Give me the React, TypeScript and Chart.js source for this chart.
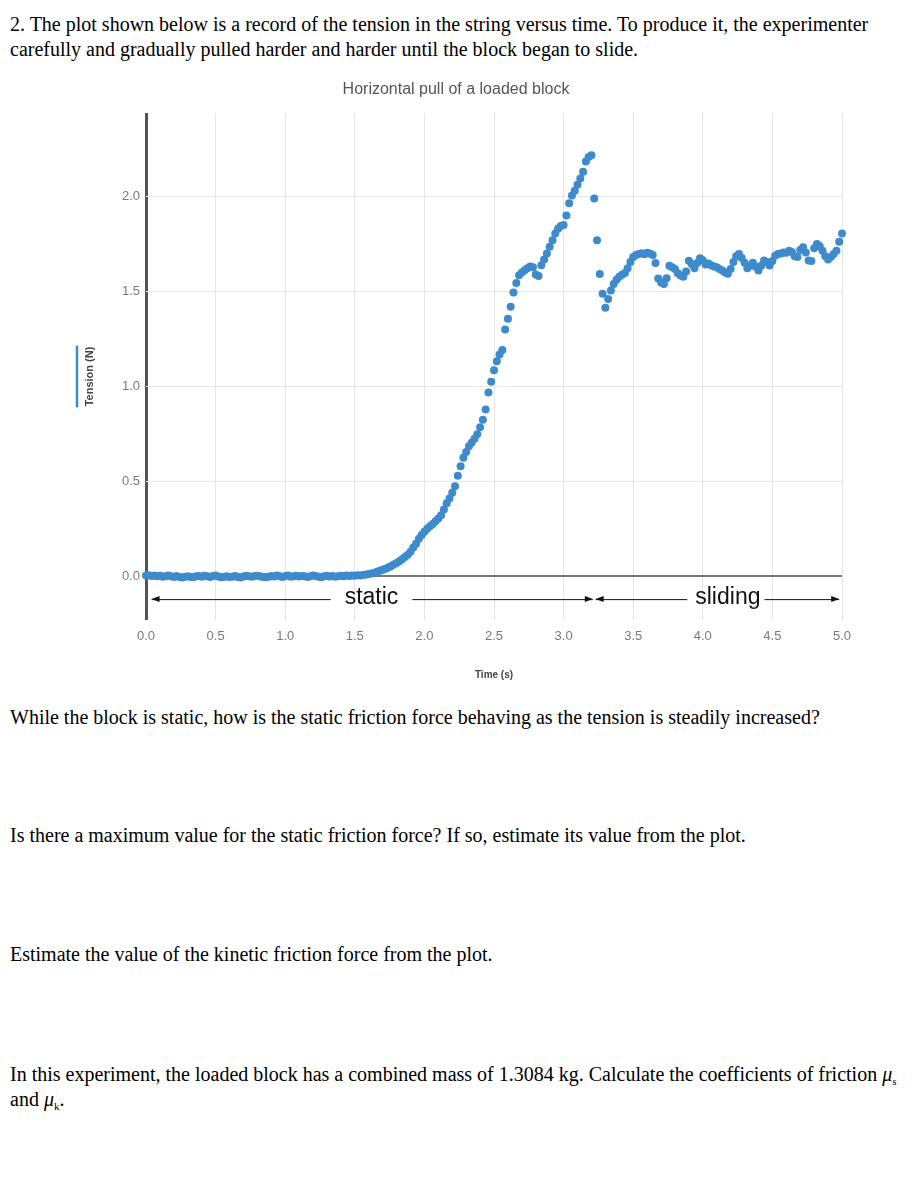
import React, { useEffect, useRef } from 'react';
import { Chart, registerables } from 'chart.js';

Chart.register(...registerables);

// ---- Data ----
const chartTitle = 'Horizontal pull of a loaded block';
const xAxisTitle = 'Time (s)';
const yAxisTitle = 'Tension (N)';

const time: number[] = [
  0.00, 0.02, 0.04, 0.06, 0.08, 0.10, 0.12, 0.14, 0.16, 0.18,
  0.20, 0.22, 0.24, 0.26, 0.28, 0.30, 0.32, 0.34, 0.36, 0.38,
  0.40, 0.42, 0.44, 0.46, 0.48, 0.50, 0.52, 0.54, 0.56, 0.58,
  0.60, 0.62, 0.64, 0.66, 0.68, 0.70, 0.72, 0.74, 0.76, 0.78,
  0.80, 0.82, 0.84, 0.86, 0.88, 0.90, 0.92, 0.94, 0.96, 0.98,
  1.00, 1.02, 1.04, 1.06, 1.08, 1.10, 1.12, 1.14, 1.16, 1.18,
  1.20, 1.22, 1.24, 1.26, 1.28, 1.30, 1.32, 1.34, 1.36, 1.38,
  1.40, 1.42, 1.44, 1.46, 1.48, 1.50, 1.52, 1.54, 1.56, 1.58,
  1.60, 1.62, 1.64, 1.66, 1.68, 1.70, 1.72, 1.74, 1.76, 1.78,
  1.80, 1.82, 1.84, 1.86, 1.88, 1.90, 1.92, 1.94, 1.96, 1.98,
  2.00, 2.02, 2.04, 2.06, 2.08, 2.10, 2.12, 2.14, 2.16, 2.18,
  2.20, 2.22, 2.24, 2.26, 2.28, 2.30, 2.32, 2.34, 2.36, 2.38,
  2.40, 2.42, 2.44, 2.46, 2.48, 2.50, 2.52, 2.54, 2.56, 2.58,
  2.60, 2.62, 2.64, 2.66, 2.68, 2.70, 2.72, 2.74, 2.76, 2.78,
  2.80, 2.82, 2.84, 2.86, 2.88, 2.90, 2.92, 2.94, 2.96, 2.98,
  3.00, 3.02, 3.04, 3.06, 3.08, 3.10, 3.12, 3.14, 3.16, 3.18,
  3.20, 3.22, 3.24, 3.26, 3.28, 3.30, 3.32, 3.34, 3.36, 3.38,
  3.40, 3.42, 3.44, 3.46, 3.48, 3.50, 3.52, 3.54, 3.56, 3.58,
  3.60, 3.62, 3.64, 3.66, 3.68, 3.70, 3.72, 3.74, 3.76, 3.78,
  3.80, 3.82, 3.84, 3.86, 3.88, 3.90, 3.92, 3.94, 3.96, 3.98,
  4.00, 4.02, 4.04, 4.06, 4.08, 4.10, 4.12, 4.14, 4.16, 4.18,
  4.20, 4.22, 4.24, 4.26, 4.28, 4.30, 4.32, 4.34, 4.36, 4.38,
  4.40, 4.42, 4.44, 4.46, 4.48, 4.50, 4.52, 4.54, 4.56, 4.58,
  4.60, 4.62, 4.64, 4.66, 4.68, 4.70, 4.72, 4.74, 4.76, 4.78,
  4.80, 4.82, 4.84, 4.86, 4.88, 4.90, 4.92, 4.94, 4.96, 4.98,
  5.00,
];

const tension: number[] = [
  0.004, 0.006, 0.002, 0.005, 0.001, 0.003, -0.002, 0.001, 0.004, 0.000,
  -0.003, 0.002, -0.004, -0.006, -0.002, 0.001, -0.003, -0.005, 0.000, 0.002,
  -0.002, 0.003, 0.001, -0.004, 0.002, 0.004, -0.001, -0.005, -0.003, 0.001,
  -0.004, -0.002, 0.002, -0.003, -0.006, -0.001, 0.003, 0.001, -0.002, 0.002,
  0.003, 0.000, -0.003, -0.005, -0.002, 0.002, -0.001, 0.004, 0.001, -0.003,
  0.002, 0.004, -0.002, 0.001, 0.003, -0.001, 0.002, 0.000, -0.003, 0.001,
  0.004, 0.002, -0.002, -0.005, 0.001, 0.003, -0.001, 0.002, -0.002, 0.000,
  0.003, 0.001, 0.004, 0.002, 0.005, 0.003, 0.006, 0.004, 0.007, 0.009,
  0.012, 0.015, 0.018, 0.024, 0.030, 0.035, 0.040, 0.047, 0.053, 0.062,
  0.070, 0.080, 0.090, 0.102, 0.113, 0.130, 0.152, 0.172, 0.198, 0.218,
  0.235, 0.250, 0.264, 0.276, 0.290, 0.305, 0.322, 0.352, 0.385, 0.410,
  0.440, 0.475, 0.530, 0.580, 0.625, 0.655, 0.685, 0.705, 0.725, 0.748,
  0.785, 0.825, 0.878, 0.968, 1.025, 1.085, 1.132, 1.168, 1.192, 1.300,
  1.356, 1.420, 1.495, 1.545, 1.585, 1.600, 1.612, 1.622, 1.632, 1.628,
  1.590, 1.582, 1.638, 1.668, 1.700, 1.735, 1.770, 1.805, 1.830, 1.845,
  1.850, 1.900, 1.965, 2.005, 2.030, 2.062, 2.095, 2.130, 2.185, 2.208,
  2.218, 1.990, 1.770, 1.592, 1.488, 1.414, 1.460, 1.505, 1.540, 1.562,
  1.578, 1.588, 1.598, 1.622, 1.655, 1.682, 1.692, 1.698, 1.702, 1.696,
  1.704, 1.700, 1.692, 1.650, 1.568, 1.548, 1.540, 1.570, 1.636, 1.628,
  1.618, 1.596, 1.584, 1.578, 1.605, 1.662, 1.645, 1.622, 1.650, 1.675,
  1.665, 1.642, 1.648, 1.638, 1.632, 1.628, 1.618, 1.610, 1.600, 1.593,
  1.618, 1.655, 1.685, 1.698, 1.676, 1.652, 1.622, 1.635, 1.652, 1.630,
  1.610, 1.636, 1.663, 1.655, 1.637, 1.660, 1.688, 1.698, 1.700, 1.706,
  1.704, 1.714, 1.708, 1.685, 1.682, 1.718, 1.733, 1.705, 1.663, 1.660,
  1.728, 1.750, 1.738, 1.715, 1.685, 1.668, 1.682, 1.698, 1.715, 1.762,
  1.805,
];

// Axis ranges / ticks
const xMin = 0;
const xMax = 5;
const xStep = 0.5;
const yMin = -0.23;
const yMax = 2.44;
const yStep = 0.5;

// Phase annotations (arrows under the data)
const phaseLabels = ['static', 'sliding'];
const phaseStart = [0.04, 3.23];
const phaseEnd = [3.21, 4.98];
const phaseLabelAt = [1.62, 4.18];
const phaseArrowLevel = -0.12;

const POINT_COLOR = '#3d8bcd';
const SANS = '"Liberation Sans", Arial, Helvetica, sans-serif';

const annotationPlugin = {
  id: 'phaseArrows',
  afterDatasetsDraw(chart: any) {
    const { ctx, scales, chartArea } = chart;
    const xs = scales.x;
    const ys = scales.y;
    const y = ys.getPixelForValue(phaseArrowLevel);
    const gaps = [
      [14, 14],
      [8, 4],
    ];
    ctx.save();
    ctx.font = `23px ${SANS}`;
    ctx.textAlign = 'center';
    ctx.textBaseline = 'middle';
    ctx.strokeStyle = '#111';
    ctx.fillStyle = '#111';
    ctx.lineWidth = 1;
    const head = (xTip: number, dir: number) => {
      ctx.beginPath();
      ctx.moveTo(xTip, y);
      ctx.lineTo(xTip - dir * 8, y - 3);
      ctx.lineTo(xTip - dir * 8, y + 3);
      ctx.closePath();
      ctx.fill();
    };
    phaseLabels.forEach((label, i) => {
      const x0 = xs.getPixelForValue(phaseStart[i]);
      const x1 = xs.getPixelForValue(phaseEnd[i]);
      const xc = xs.getPixelForValue(phaseLabelAt[i]);
      const w = ctx.measureText(label).width;
      ctx.fillStyle = '#111';
      ctx.fillText(label, xc, y - 1);
      ctx.beginPath();
      ctx.moveTo(x0, y + 0.5);
      ctx.lineTo(xc - w / 2 - gaps[i][0], y + 0.5);
      ctx.moveTo(xc + w / 2 + gaps[i][1], y + 0.5);
      ctx.lineTo(x1, y + 0.5);
      ctx.stroke();
      head(x0, -1);
      head(x1, 1);
    });

    // y-axis title with its series colour marker
    const cy = (chartArea.top + chartArea.bottom) / 2 + 10;
    const tx = chartArea.left - 56;
    ctx.translate(tx, cy);
    ctx.rotate(-Math.PI / 2);
    ctx.font = `bold 11px ${SANS}`;
    ctx.fillStyle = '#444';
    ctx.textAlign = 'center';
    ctx.textBaseline = 'middle';
    ctx.fillText(yAxisTitle, 0, 0);
    const tw = ctx.measureText(yAxisTitle).width;
    ctx.strokeStyle = POINT_COLOR;
    ctx.lineWidth = 2.5;
    ctx.beginPath();
    ctx.moveTo(-tw / 2 - 1, -13);
    ctx.lineTo(tw / 2 + 1, -13);
    ctx.stroke();
    ctx.restore();
  },
};

function TensionChart() {
  const ref = useRef<HTMLCanvasElement | null>(null);
  useEffect(() => {
    if (!ref.current) return;
    const points = time.map((t, i) => ({ x: t, y: tension[i] }));
    const chart = new Chart(ref.current, {
      type: 'scatter',
      data: {
        datasets: [
          {
            label: yAxisTitle,
            data: points,
            backgroundColor: POINT_COLOR,
            borderColor: POINT_COLOR,
            borderWidth: 0,
            pointRadius: 4,
            pointHoverRadius: 4,
            clip: false,
          } as any,
        ],
      },
      options: {
        responsive: false,
        animation: false,
        devicePixelRatio: 1,
        layout: { padding: { left: 70, right: 82, top: 0, bottom: 14.5 } },
        plugins: {
          legend: { display: false },
          tooltip: { enabled: false },
          title: {
            display: true,
            text: chartTitle,
            color: '#555',
            font: { family: SANS, size: 16, weight: 'normal' as any },
            padding: { top: 10.4, bottom: 13.4 },
          },
        },
        scales: {
          x: {
            type: 'linear',
            min: xMin,
            max: xMax,
            afterFit: (s: any) => {
              s.height = 65.5;
            },
            border: { display: false },
            grid: {
              drawTicks: false,
              color: (c: any) => (c.tick && c.tick.value === 0 ? '#555' : '#e4e4e4'),
              lineWidth: (c: any) => (c.tick && c.tick.value === 0 ? 3 : 1),
            },
            ticks: {
              stepSize: xStep,
              includeBounds: false,
              autoSkip: false,
              maxRotation: 0,
              padding: 9,
              color: '#7a7a7a',
              font: { family: SANS, size: 13 },
              callback: (v: any) => Number(v).toFixed(1),
            },
            title: {
              display: true,
              text: xAxisTitle,
              color: '#444',
              font: { family: SANS, size: 10, weight: 'bold' as any },
              padding: { top: 0, bottom: 4 },
            },
          },
          y: {
            type: 'linear',
            min: yMin,
            max: yMax,
            afterFit: (s: any) => {
              s.width = 76;
            },
            border: { display: false },
            grid: {
              drawTicks: false,
              color: (c: any) => (c.tick && c.tick.value === 0 ? '#777' : '#e8e8e8'),
              lineWidth: (c: any) => (c.tick && c.tick.value === 0 ? 2 : 1),
            },
            ticks: {
              stepSize: yStep,
              includeBounds: false,
              padding: 6,
              color: '#7a7a7a',
              font: { family: SANS, size: 13 },
              callback: (v: any) => Number(v).toFixed(1),
            },
          },
        },
      },
      plugins: [annotationPlugin],
    });
    return () => chart.destroy();
  }, []);
  return (
    <canvas
      ref={ref}
      width={924}
      height={630}
      style={{ position: 'absolute', left: 0, top: 70, width: 924, height: 630 }}
    />
  );
}

const serif = '"Times New Roman", "Liberation Serif", Times, serif';

const textStyle = (top: number, lh = 25): React.CSSProperties => ({
  position: 'absolute',
  left: 10,
  top,
  whiteSpace: 'nowrap',
  fontFamily: serif,
  fontSize: 20,
  lineHeight: `${lh}px`,
  color: '#000',
});

const Mu = ({ sub }: { sub: string }) => (
  <span>
    <i>μ</i>
    <span style={{ fontSize: '0.55em', position: 'relative', top: '0.35em' }}>{sub}</span>
  </span>
);

export default function App() {
  return (
    <div style={{ position: 'absolute', left: 0, top: 0, width: 924, height: 1177, background: '#fff' }}>
      <div style={textStyle(12)}>
        2. The plot shown below is a record of the tension in the string versus time. To produce it, the experimenter
        <br />
        carefully and gradually pulled harder and harder until the block began to slide.
      </div>
      <TensionChart />
      <div style={textStyle(705)}>
        While the block is static, how is the static friction force behaving as the tension is steadily increased?
      </div>
      <div style={textStyle(823)}>
        Is there a maximum value for the static friction force? If so, estimate its value from the plot.
      </div>
      <div style={textStyle(942)}>Estimate the value of the kinetic friction force from the plot.</div>
      <div style={textStyle(1063, 22)}>
        In this experiment, the loaded block has a combined mass of 1.3084 kg. Calculate the coefficients of friction <Mu sub="s" />
        <br />
        and <Mu sub="k" />.
      </div>
    </div>
  );
}
